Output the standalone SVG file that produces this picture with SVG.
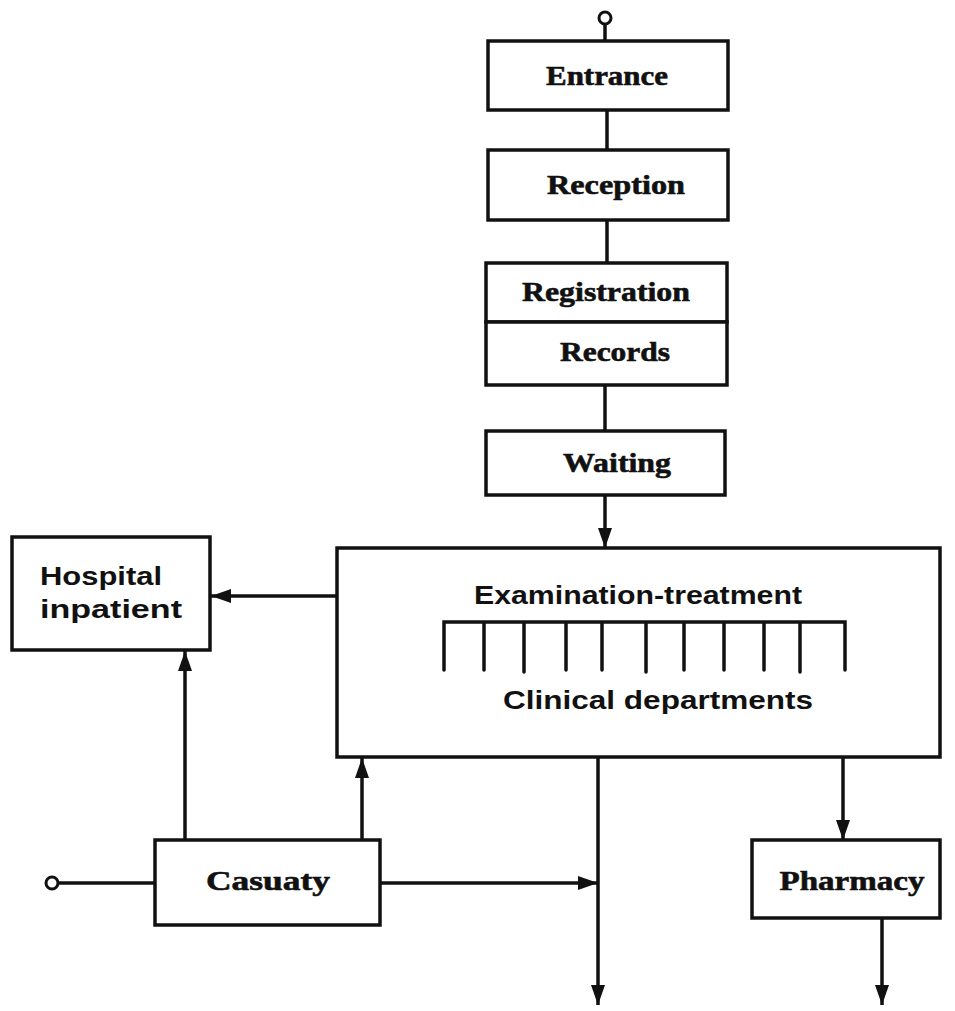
<svg xmlns="http://www.w3.org/2000/svg" width="955" height="1011" viewBox="0 0 955 1011">
<defs>
<marker id="arr" viewBox="0 0 20 14" refX="20" refY="7" markerWidth="20" markerHeight="14" markerUnits="userSpaceOnUse" orient="auto">
<path d="M0,0 L20,7 L0,14 z" fill="#111"/>
</marker>
<style>
.box{fill:#fff;stroke:#111;stroke-width:3.5}
.ln{fill:none;stroke:#111;stroke-width:3.5}
.arw{fill:none;stroke:#111;stroke-width:3.5;marker-end:url(#arr)}
.term{fill:#fff;stroke:#111;stroke-width:3}
.t1{font-family:"Liberation Serif","DejaVu Serif",serif;font-weight:bold;font-size:28px;fill:#111;text-anchor:middle;stroke:#111;stroke-width:0.6}
.t2{font-family:"Liberation Sans","DejaVu Sans",sans-serif;font-weight:bold;font-size:25px;fill:#111}
</style>
</defs>
<rect width="955" height="1011" fill="#fff"/>

<g id="connectors">
<circle class="term" cx="605" cy="18" r="6"/>
<line class="ln" x1="605" y1="24" x2="605" y2="41"/>
<line class="ln" x1="607" y1="110" x2="607" y2="150"/>
<line class="ln" x1="607" y1="220" x2="607" y2="263"/>
<line class="ln" x1="605" y1="385" x2="605" y2="431"/>
<line class="arw" x1="605" y1="495" x2="605" y2="548"/>
<line class="arw" x1="337" y1="596" x2="211" y2="596"/>
<line class="arw" x1="185" y1="840" x2="185" y2="651"/>
<line class="arw" x1="362" y1="840" x2="362" y2="758"/>
<circle class="term" cx="52" cy="883" r="6"/>
<line class="ln" x1="58" y1="883" x2="155" y2="883"/>
<line class="arw" x1="380" y1="883" x2="598" y2="883"/>
<line class="arw" x1="598" y1="757" x2="598" y2="1005"/>
<line class="arw" x1="843" y1="757" x2="843" y2="840"/>
<line class="arw" x1="882" y1="918" x2="882" y2="1005"/>
</g>

<g id="entrance">
<rect class="box" x="488" y="41" width="240" height="69"/>
<text class="t1" x="607" y="85" textLength="122" lengthAdjust="spacingAndGlyphs">Entrance</text>
</g>
<g id="reception">
<rect class="box" x="488" y="150" width="240" height="70"/>
<text class="t1" x="616" y="194" textLength="138" lengthAdjust="spacingAndGlyphs">Reception</text>
</g>
<g id="registration">
<rect class="box" x="486" y="263" width="241" height="59"/>
<text class="t1" x="606" y="301" textLength="168" lengthAdjust="spacingAndGlyphs">Registration</text>
</g>
<g id="records">
<rect class="box" x="486" y="322" width="241" height="63"/>
<text class="t1" x="615" y="361" textLength="110" lengthAdjust="spacingAndGlyphs">Records</text>
</g>
<g id="waiting">
<rect class="box" x="486" y="431" width="239" height="64"/>
<text class="t1" x="617" y="472" textLength="108" lengthAdjust="spacingAndGlyphs">Waiting</text>
</g>

<g id="hospital-inpatient">
<rect class="box" x="12" y="537" width="198" height="113"/>
<text class="t2" x="40" y="585" textLength="122" lengthAdjust="spacingAndGlyphs">Hospital</text>
<text class="t2" x="40" y="618" textLength="142" lengthAdjust="spacingAndGlyphs">inpatient</text>
</g>

<g id="examination-treatment">
<rect class="box" x="337" y="548" width="603" height="209"/>
<text class="t2" x="474" y="604" textLength="328" lengthAdjust="spacingAndGlyphs">Examination-treatment</text>
<path class="ln" stroke-linecap="round" d="M444,670 V622 H845 V670 M484,622 V670 M524,622 V672 M566,622 V670 M602,622 V670 M646,622 V672 M684,622 V670 M724,622 V670 M764,622 V670 M800,622 V672"/>
<text class="t2" x="503" y="709" textLength="310" lengthAdjust="spacingAndGlyphs">Clinical departments</text>
</g>

<g id="casualty">
<rect class="box" x="155" y="840" width="225" height="85"/>
<text class="t1" x="268" y="890" textLength="124" lengthAdjust="spacingAndGlyphs">Casuaty</text>
</g>

<g id="pharmacy">
<rect class="box" x="752" y="840" width="188" height="78"/>
<text class="t1" x="852" y="890" textLength="145" lengthAdjust="spacingAndGlyphs">Pharmacy</text>
</g>
</svg>
